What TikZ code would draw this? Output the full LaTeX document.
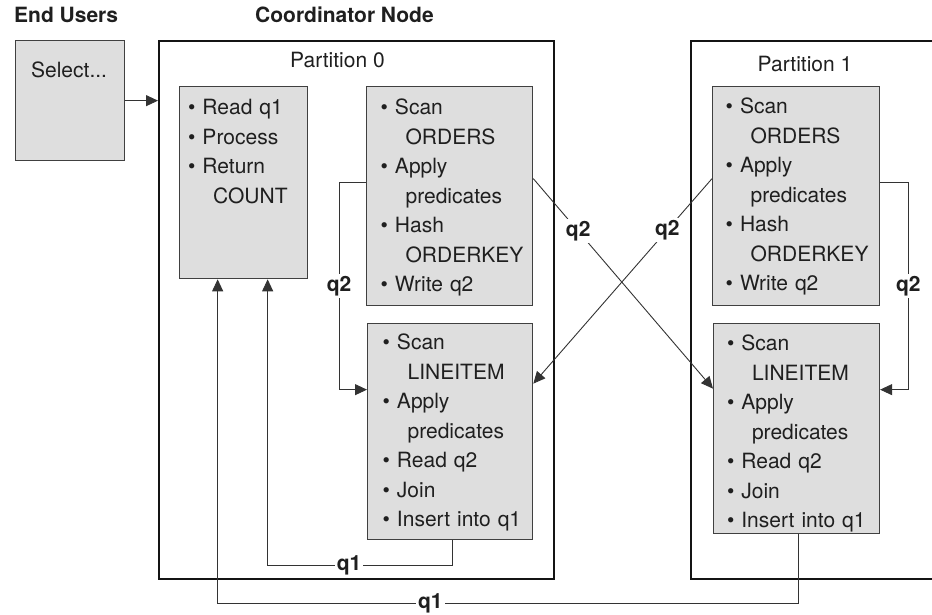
\documentclass[tikz,border=0pt]{standalone}
\usepackage{fontspec}
\setmainfont{TeX Gyre Heros}
\usetikzlibrary{arrows.meta,positioning}
\newcommand{\indt}{\hspace*{25pt}}
\hyphenpenalty=10000
\exhyphenpenalty=10000

\begin{document}
\begin{tikzpicture}[
  x=1pt, y=-1pt,
  font=\fontsize{21}{29.5}\selectfont,
  text=black!88,
  >={Triangle[length=12pt,width=11pt]},
  partbox/.style={rectangle, draw=black!92, line width=2.2pt, anchor=north west, inner sep=0pt},
  task/.style={rectangle, draw=black!75, line width=1.3pt, fill=black!13, anchor=north west,
               align=left, inner ysep=0pt},
  link/.style={->, draw=black!80, line width=0.9pt},
  lbl/.style={font=\fontsize{21}{24}\selectfont\bfseries, fill=white, inner sep=2pt},
  head/.style={font=\fontsize{21}{24}\selectfont\bfseries, anchor=base west, inner sep=0pt},
]
\useasboundingbox (0,0) rectangle (932,615);
\clip (0,0) rectangle (932,615);

% headings
\node[head] (users) at (14,23) {End Users};
\node[head] (coord) at (255,23) {Coordinator Node};

% partitions
\node[partbox, minimum width=395pt, minimum height=538pt] (p0) at (158,40) {};
\node[partbox, minimum width=300pt, minimum height=538pt] (p1) at (690,40) {};
\node[anchor=base] (p0name) at (337.5,68) {Partition 0};
\node[anchor=base] (p1name) at (805,71.5) {Partition 1};

% end user
\node[task, inner xsep=15.5pt, text width=78pt, text height=37pt, text depth=83pt] (sel) at (15,40) {Select...};

% coordinator work
\node[task, inner xsep=8.5pt, text width=111pt, text height=28pt, text depth=164pt] (rq) at (179,86)
  {\textbullet\ Read q1\\ \textbullet\ Process\\ \textbullet\ Return\\ \indt COUNT};
\node[task, inner xsep=14pt, text width=138pt, text height=28.3pt, text depth=190.7pt] (ord0) at (366,86)
  {\textbullet\ Scan\\ \indt ORDERS\\ \textbullet\ Apply\\ \indt predicates\\
   \textbullet\ Hash\\ \indt\mbox{ORDERKEY}\\ \textbullet\ Write q2};
\node[task, inner xsep=15pt, text width=135pt, text height=26.3pt, text depth=189.7pt] (lin0) at (367,323)
  {\textbullet\ Scan\\ \indt LINEITEM\\ \textbullet\ Apply\\ \indt predicates\\
   \textbullet\ Read q2\\ \textbullet\ Join\\ \mbox{\textbullet\ Insert into q1}};

% partition 1 work
\node[task, inner xsep=13pt, text width=141pt, text height=27.3pt, text depth=191.7pt] (ord1) at (712,86)
  {\textbullet\ Scan\\ \indt ORDERS\\ \textbullet\ Apply\\ \indt predicates\\
   \textbullet\ Hash\\ \indt\mbox{ORDERKEY}\\ \textbullet\ Write q2};
\node[task, inner xsep=13.4pt, text width=139pt, text height=27pt, text depth=183pt] (lin1) at (713,323)
  {\textbullet\ Scan\\ \indt LINEITEM\\ \textbullet\ Apply\\ \indt predicates\\
   \textbullet\ Read q2\\ \textbullet\ Join\\ \mbox{\textbullet\ Insert into q1}};

% request in
\draw[link] (sel.east) -- (sel.east -| p0.west);

% q2 inside each partition
\draw[link] ([yshift=13.5pt]ord0.west) -- ++(-27,0) |- node[lbl, pos=0.25]{q2} ([yshift=42pt]lin0.west);
\draw[link] ([yshift=13.5pt]ord1.east) -- ++(28,0) |- node[lbl, pos=0.25]{q2} ([yshift=39pt]lin1.east);

% q2 across partitions
\draw[link] ([yshift=17.5pt]ord0.east) -- node[lbl, pos=0.25]{q2} ([yshift=40pt]lin1.west);
\draw[link] ([yshift=17.5pt]ord1.west) -- node[lbl, pos=0.25]{q2} ([yshift=48pt]lin0.east);

% q1 back to the coordinator
\draw[link] ([xshift=2.5pt]lin0.south) -- ++(0,25) -| node[lbl, pos=0.28]{q1} ([xshift=24pt]rq.south);
\draw[link] ([xshift=2pt]lin1.south) -- ++(0,69) -| node[lbl, pos=0.317]{q1} ([xshift=-26pt]rq.south);

\end{tikzpicture}
\end{document}
